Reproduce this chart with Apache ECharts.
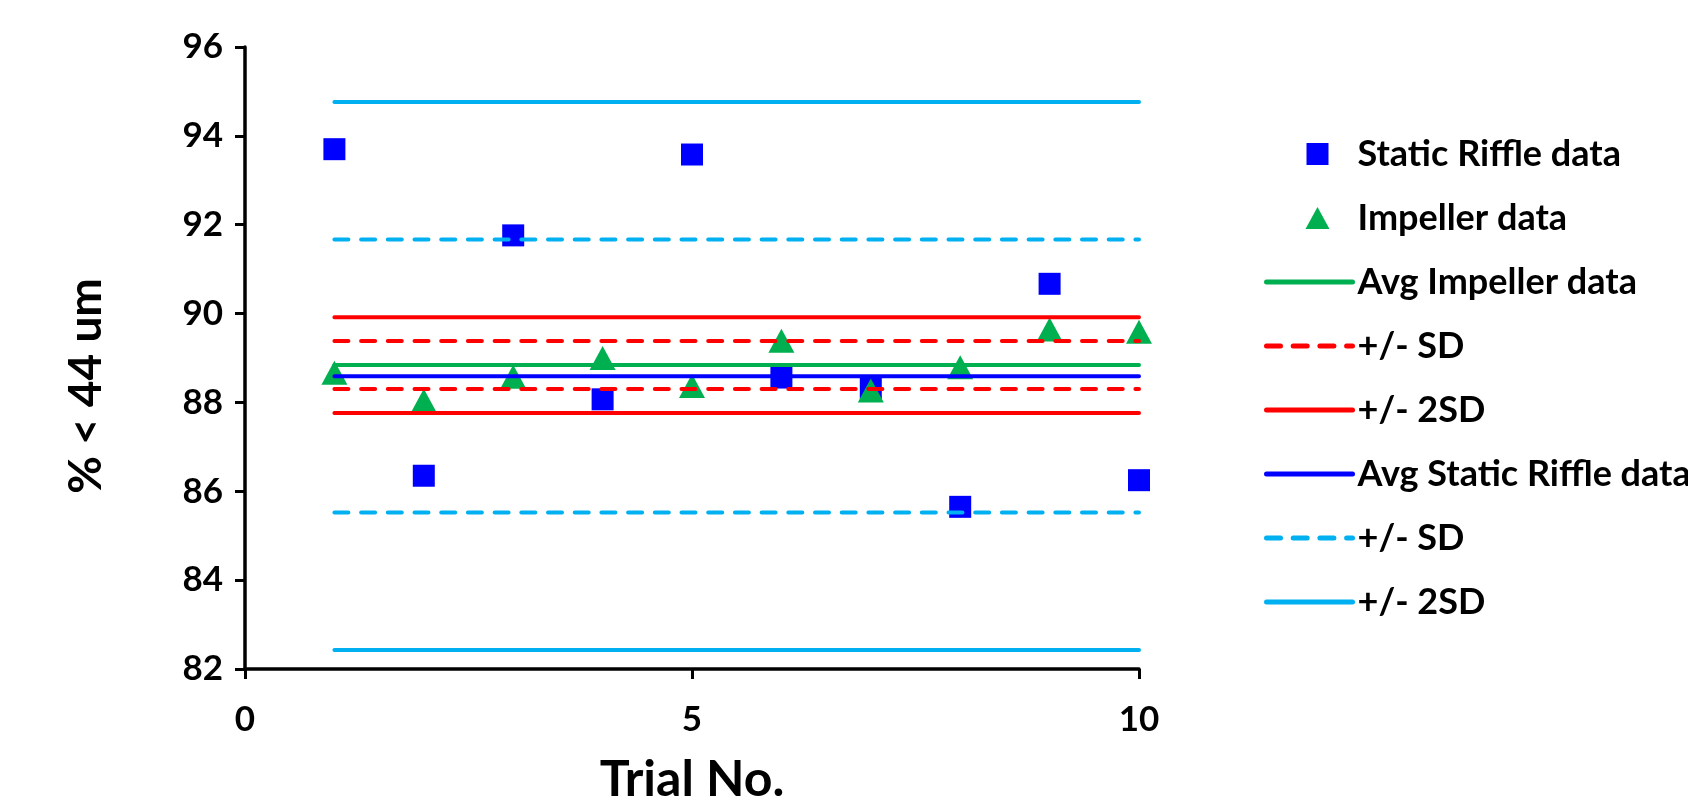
<!DOCTYPE html>
<html>
<head>
<meta charset="utf-8">
<script src="https://cdn.jsdelivr.net/npm/echarts@6/dist/echarts.min.js"></script>
<style>
  html, body { margin: 0; padding: 0; background: #fff; }
  #chart { width: 1688px; height: 810px; }
</style>
</head>
<body>
<div id="chart"></div>
<script>
// trial numbers and measured values (% < 44 um)
const trials = [1, 2, 3, 4, 5, 6, 7, 8, 9, 10];
const staticRiffle = [93.70, 86.35, 91.76, 88.07, 93.58, 88.56, 88.33, 85.65, 90.67, 86.25];
const impeller = [88.67, 88.04, 88.58, 89.00, 88.37, 89.39, 88.27, 88.79, 89.64, 89.59];

// reference lines
const avgImpeller = 88.84;
const impellerSD = [89.38, 88.30];
const impeller2SD = [89.92, 87.76];
const avgStatic = 88.59;
const staticSD = [91.67, 85.52];
const static2SD = [94.76, 82.43];

const xTicks = [0, 5, 10];
const yTicks = [82, 84, 86, 88, 90, 92, 94, 96];

// legend labels (two entries share the same text)
const legendText = {
  'Static': 'Static Riffle data',
  'Impeller': 'Impeller data',
  'AvgImp': 'Avg Impeller data',
  'ImpSD': '+/- SD',
  'Imp2SD': '+/- 2SD',
  'AvgStatic': 'Avg Static Riffle data',
  'StaticSD': '+/- SD',
  'Static2SD': '+/- 2SD'
};
// marker icons padded to the full legend item box so they keep their size
const markerIcons = {
  'Static': 'path://M0,0M86,24M40,1h22v22h-22z',
  'Impeller': 'path://M0,0M86,24M51,1L63,23L39,23Z'
};

const FONT = 'Lato, "Open Sans", sans-serif';
const dash = [14, 12.7];

function hLine(name, value, color, type) {
  return {
    name: name,
    type: 'line',
    z: 3,
    data: trials.map(t => [t, value]),
    symbol: 'none',
    silent: true,
    lineStyle: { color: color, width: 4, type: type, cap: 'round' },
    itemStyle: { color: color }
  };
}

const chart = echarts.init(document.getElementById('chart'));
chart.setOption({
  animation: false,
  backgroundColor: '#fff',
  grid: { left: 245, top: 47, width: 894, height: 633 },
  legend: {
    orient: 'vertical',
    left: 1259,
    top: 131,
    itemWidth: 86,
    itemHeight: 24,
    itemGap: 28,
    lineStyle: { width: 5, cap: 'round' },
    data: Object.keys(legendText).map(n => markerIcons[n]
      ? { name: n, icon: markerIcons[n] }
      : { name: n, itemStyle: { color: 'rgba(0,0,0,0)', borderWidth: 0, opacity: 0 } }),
    formatter: n => legendText[n],
    textStyle: { fontFamily: FONT, fontWeight: 'bold', fontSize: 36, color: '#000', lineHeight: 30 }
  },
  xAxis: {
    type: 'value',
    min: 0, max: 10, interval: 5,
    name: 'Trial No.',
    nameLocation: 'middle',
    nameGap: 86,
    nameTextStyle: { fontFamily: FONT, fontWeight: 'bold', fontSize: 50, color: '#000' },
    splitLine: { show: false },
    axisLine: { lineStyle: { color: '#000', width: 3.5 } },
    axisTick: { length: 10, lineStyle: { color: '#000', width: 3 } },
    axisLabel: {
      margin: 33, fontFamily: FONT, fontWeight: 'bold', fontSize: 35, color: '#000',
      formatter: v => xTicks.includes(v) ? String(v) : ''
    }
  },
  yAxis: {
    type: 'value',
    min: 82, max: 96, interval: 2,
    name: '% < 44 um',
    nameLocation: 'middle',
    nameGap: 136,
    nameTextStyle: { fontFamily: FONT, fontWeight: 'bold', fontSize: 46, color: '#000', padding: [0, 56, 0, 0] },
    splitLine: { show: false },
    axisLine: { lineStyle: { color: '#000', width: 3.5 } },
    axisTick: { length: 10, lineStyle: { color: '#000', width: 3 } },
    axisLabel: {
      margin: 22, fontFamily: FONT, fontWeight: 'bold', fontSize: 35, color: '#000',
      formatter: v => yTicks.includes(v) ? String(v) : ''
    }
  },
  series: [
    {
      name: 'Static',
      type: 'scatter',
      symbol: 'rect',
      symbolSize: 22,
      itemStyle: { color: '#0000ff', opacity: 1 },
      data: trials.map((t, i) => [t, staticRiffle[i]])
    },
    {
      name: 'Impeller',
      type: 'scatter',
      symbol: 'triangle',
      symbolSize: [26, 24],
      itemStyle: { color: '#00b050', opacity: 1 },
      data: trials.map((t, i) => [t, impeller[i]])
    },
    hLine('AvgImp', avgImpeller, '#00b050', 'solid'),
    hLine('ImpSD', impellerSD[0], '#ff0000', dash),
    hLine('ImpSD', impellerSD[1], '#ff0000', dash),
    hLine('Imp2SD', impeller2SD[0], '#ff0000', 'solid'),
    hLine('Imp2SD', impeller2SD[1], '#ff0000', 'solid'),
    hLine('AvgStatic', avgStatic, '#0000ff', 'solid'),
    hLine('StaticSD', staticSD[0], '#00b0f0', dash),
    hLine('StaticSD', staticSD[1], '#00b0f0', dash),
    hLine('Static2SD', static2SD[0], '#00b0f0', 'solid'),
    hLine('Static2SD', static2SD[1], '#00b0f0', 'solid')
  ]
});
</script>
</body>
</html>
